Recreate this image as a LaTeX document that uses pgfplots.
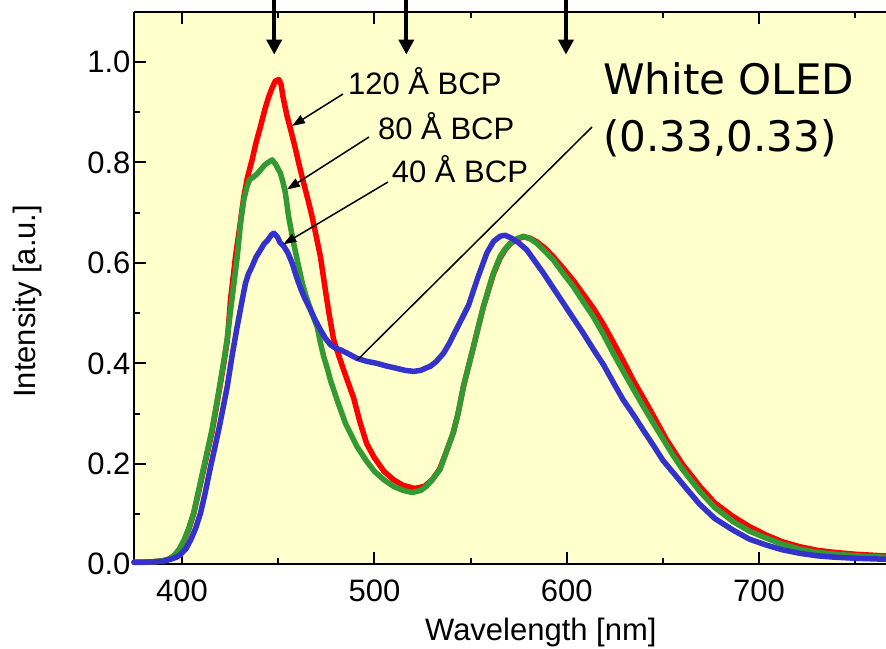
\documentclass[border=0pt]{standalone}
\usepackage{fontspec}
\setmainfont{Liberation Sans}
\newfontfamily\dejavu{DejaVu Sans}
\usepackage{pgfplots}
\pgfplotsset{compat=1.18}
\usetikzlibrary{arrows.meta}
\definecolor{bgy}{RGB}{255,255,204}
\definecolor{cred}{RGB}{255,0,0}
\definecolor{cgreen}{RGB}{51,153,51}
\definecolor{cblue}{RGB}{51,51,204}
\begin{document}
\begin{tikzpicture}
\begin{axis}[
  at={(0,0)}, anchor=south west,
  width=752bp, height=552.6bp, scale only axis,
  xmin=375, xmax=766, ymin=0, ymax=1.1,
  axis x line*=box, axis y line*=left,
  axis line style={line width=2bp, black},
  axis background/.style={fill=bgy},
  xtick={400,500,600,700}, minor xtick={450,550,650,750},
  ytick={0,0.2,0.4,0.6,0.8,1.0}, minor ytick={0.1,0.3,0.5,0.7,0.9},
  major tick length=12bp, minor tick length=6bp,
  every tick/.style={line width=2bp, black},
  every minor tick/.style={line width=2bp, black},
  /pgf/number format/assume math mode=true,
  ticklabel style={font=\fontsize{31.1}{37}\selectfont},
  yticklabel style={/pgf/number format/.cd, fixed, fixed zerofill, precision=1},
  xticklabel style={yshift=-12.4bp},
  xlabel={Wavelength [nm]},
  ylabel={Intensity [a.u.]},
  label style={font=\fontsize{31.1}{37}\selectfont},
  xlabel style={at={(axis description cs:0.541,-0.137)}, anchor=base},
  ylabel style={at={(axis description cs:-0.141,0.476)}, anchor=center},
  clip=false,
  every axis plot/.append style={line width=5.5bp, line join=round, line cap=round},
]
% 120 A BCP
\addplot[cred] coordinates {
(375,0.004)(385,0.005)(390,0.007)(393,0.010)(396,0.017)(398.5,0.028)(401,0.046)(403.5,0.070)(406,0.100)(408.5,0.142)(411.3,0.190)(413.5,0.228)(415.5,0.262)(417.5,0.305)(419.5,0.350)(421.5,0.395)(423.5,0.445)(425.2,0.527)(427.8,0.613)(430,0.672)(432.1,0.732)(434,0.770)(436.4,0.805)(438.5,0.840)(440.8,0.872)(443,0.905)(445,0.930)(447,0.950)(448.5,0.962)(450.3,0.965)(451.5,0.955)(452.5,0.930)(454.6,0.892)(456.8,0.860)(459,0.826)(461,0.793)(463.2,0.759)(465.5,0.725)(467.6,0.692)(469.8,0.652)(471.9,0.613)(474.5,0.546)(476.5,0.497)(478.8,0.447)(481.5,0.415)(484,0.387)(486.5,0.360)(489.2,0.331)(492.5,0.283)(496,0.240)(500,0.212)(505,0.185)(510,0.168)(515,0.157)(521,0.151)(526,0.155)(530,0.168)(534,0.190)(537.5,0.225)(541,0.262)(543.5,0.300)(546.3,0.354)(549,0.395)(551.5,0.433)(554,0.472)(556.7,0.513)(559.5,0.548)(561.9,0.578)(565.4,0.610)(568,0.626)(570.6,0.638)(574,0.647)(577.5,0.652)(581,0.649)(584.4,0.642)(589,0.628)(593,0.612)(598,0.590)(603.4,0.565)(608.5,0.538)(613.8,0.510)(619,0.478)(624.2,0.442)(629.4,0.405)(634.6,0.366)(640,0.330)(645,0.296)(651.9,0.248)(660,0.200)(669.2,0.155)(677,0.122)(686.5,0.095)(695,0.075)(703.8,0.058)(712,0.045)(721.1,0.035)(730,0.028)(738.4,0.024)(750,0.020)(766,0.0165)
};
% 80 A BCP
\addplot[cgreen] coordinates {
(375,0.004)(385,0.005)(390,0.007)(393,0.010)(396,0.018)(398.5,0.030)(401,0.048)(403.5,0.072)(406,0.102)(408.5,0.145)(411.3,0.194)(413.5,0.232)(415.5,0.267)(417.5,0.310)(419.5,0.354)(421.5,0.400)(423.5,0.450)(425.2,0.505)(427,0.560)(428.7,0.613)(430.4,0.679)(432.1,0.726)(433.8,0.752)(435,0.765)(436.4,0.769)(438.5,0.775)(440.8,0.785)(443,0.795)(444.8,0.800)(446.8,0.805)(448.5,0.797)(451.1,0.779)(452.5,0.760)(453.7,0.739)(455.4,0.692)(456.7,0.665)(458,0.639)(460.6,0.593)(462.5,0.560)(464.5,0.533)(467.5,0.500)(470.2,0.473)(472,0.440)(473.6,0.414)(475.5,0.390)(477.1,0.367)(480.6,0.327)(485,0.280)(491,0.234)(496,0.205)(500,0.185)(505,0.168)(510,0.155)(515,0.147)(519.7,0.143)(524,0.147)(527,0.155)(530,0.168)(534,0.188)(537.5,0.225)(541,0.262)(543.5,0.300)(546.3,0.354)(549,0.395)(551.5,0.433)(554,0.472)(556.7,0.513)(559.5,0.550)(561.9,0.580)(565.4,0.613)(568,0.628)(570.6,0.639)(574,0.648)(577.5,0.653)(581,0.648)(584.4,0.639)(589,0.622)(593,0.606)(598,0.580)(603.4,0.553)(608.5,0.523)(613.8,0.493)(619,0.458)(624.2,0.420)(629.4,0.384)(634.6,0.349)(640,0.313)(645,0.281)(650,0.250)(655.3,0.217)(660,0.190)(669.2,0.145)(677,0.113)(686.5,0.085)(695,0.066)(703.8,0.052)(712,0.040)(721.1,0.030)(730,0.024)(738.4,0.0205)(750,0.017)(766,0.014)
};
% 40 A BCP
\addplot[cblue] coordinates {
(375,0.004)(380,0.004)(385,0.005)(390,0.006)(394,0.010)(397,0.014)(399,0.019)(402,0.031)(404.4,0.048)(407,0.071)(409.6,0.102)(412,0.142)(414.8,0.194)(417,0.232)(419,0.267)(421,0.305)(423.5,0.354)(426,0.415)(428.5,0.470)(431.3,0.527)(433,0.560)(434.5,0.578)(436.4,0.593)(438.5,0.612)(440.8,0.626)(442.5,0.637)(444.5,0.645)(446.5,0.656)(447.7,0.659)(449.5,0.652)(451,0.640)(452.9,0.633)(455,0.620)(457.2,0.600)(459,0.578)(460.6,0.560)(462.5,0.541)(464.1,0.527)(466.7,0.507)(469,0.488)(471.9,0.467)(474.5,0.450)(477.1,0.437)(480,0.430)(482.3,0.427)(486,0.420)(490.9,0.410)(496,0.404)(501.3,0.400)(506,0.395)(511.7,0.390)(516,0.386)(520.4,0.384)(524,0.386)(527,0.391)(529,0.394)(532,0.403)(535.9,0.420)(539,0.440)(542,0.463)(546,0.493)(549,0.516)(553.7,0.570)(558.5,0.620)(562,0.643)(565.4,0.653)(568,0.655)(571.4,0.649)(575,0.640)(579.2,0.626)(583.5,0.603)(587.8,0.580)(593,0.550)(598.2,0.520)(603.4,0.490)(608.6,0.460)(614,0.427)(619,0.398)(624.2,0.362)(629.4,0.327)(634.6,0.298)(639.8,0.267)(645,0.237)(650,0.207)(655,0.184)(660,0.161)(669,0.120)(677,0.091)(686.5,0.068)(695,0.050)(704,0.038)(712,0.029)(721,0.022)(730,0.017)(738,0.0145)(750,0.012)(766,0.010)
};
% wavelength markers at the top
\draw[line width=4bp, -{Triangle[length=15bp,width=15bp]}] (axis cs:447.9,1.145) -- (axis cs:447.9,1.0146);
\draw[line width=4bp, -{Triangle[length=15bp,width=15bp]}] (axis cs:516.6,1.145) -- (axis cs:516.6,1.0146);
\draw[line width=4bp, -{Triangle[length=15bp,width=15bp]}] (axis cs:599.6,1.145) -- (axis cs:599.6,1.0146);
\end{axis}
% annotations (positions relative to axis origin)
\begin{scope}[x=1bp,y=1bp]
\node[anchor=base west, inner sep=0, font=\fontsize{31.1}{37}\selectfont] at (214,469.3) {120 Å BCP};
\node[anchor=base west, inner sep=0, font=\fontsize{31.1}{37}\selectfont] at (244,425) {80 Å BCP};
\node[anchor=base west, inner sep=0, font=\fontsize{31.1}{37}\selectfont] at (257.7,381.6) {40 Å BCP};
\node[anchor=base west, inner sep=0, font=\dejavu\fontsize{42.2}{50}\selectfont] at (469,469.3) {White OLED};
\node[anchor=base west, inner sep=0, font=\dejavu\fontsize{42.2}{50}\selectfont] at (469,412.3) {(0.33,0.33)};
\draw[line width=1.5bp, -{Triangle[length=13bp,width=9bp]}] (209,470.3) -- (158,438.3);
\draw[line width=1.5bp, -{Triangle[length=13bp,width=9bp]}] (235,427.3) -- (153,374.8);
\draw[line width=1.5bp, -{Triangle[length=13bp,width=9bp]}] (254,382.3) -- (149.3,320);
\draw[line width=1.5bp] (458,437.3) -- (223.3,204.3);
\end{scope}
\pgfresetboundingbox
\path[use as bounding box] (-134bp,-84.7bp) rectangle (752bp,564.3bp);
\end{tikzpicture}
\end{document}
